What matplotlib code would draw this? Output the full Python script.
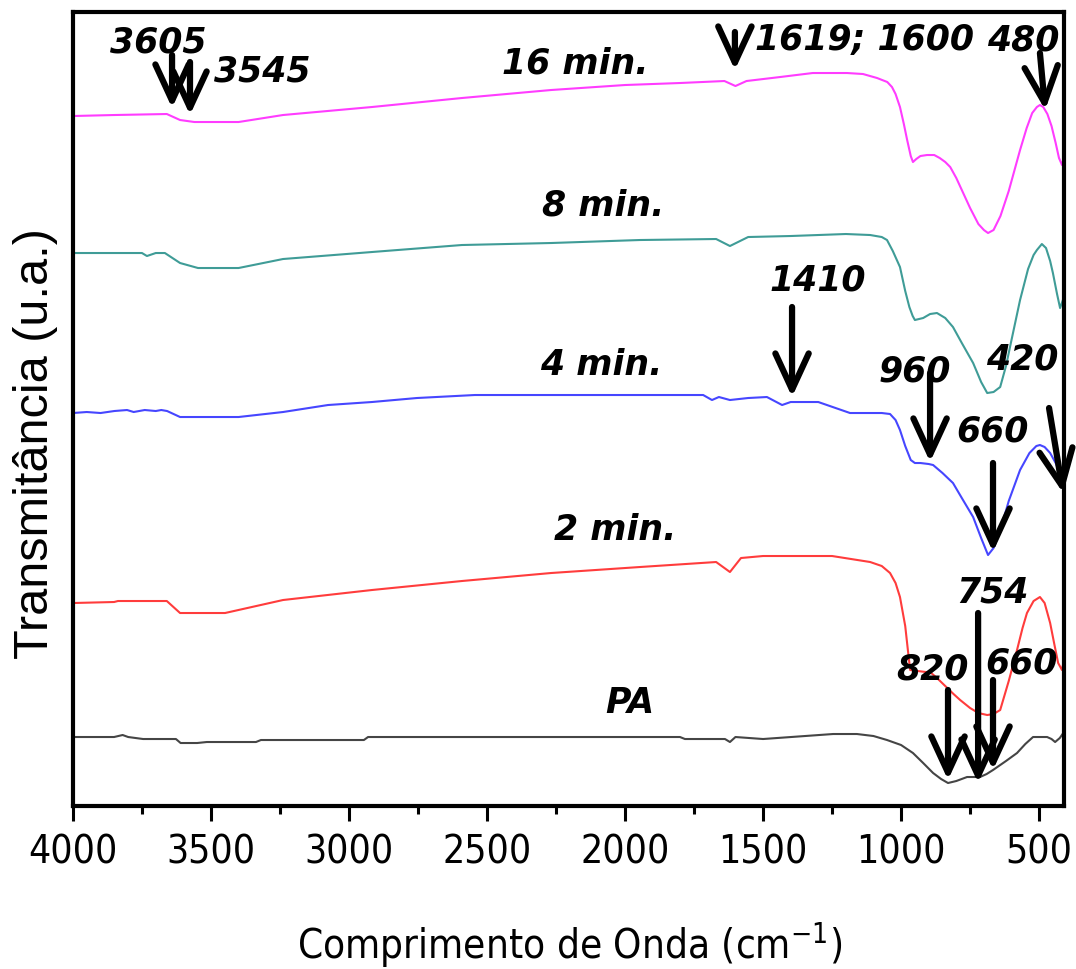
import matplotlib
matplotlib.use('Agg')
import matplotlib.pyplot as plt
from matplotlib import font_manager as fm
from matplotlib.ticker import MultipleLocator

# FTIR spectra, values (arbitrary transmittance units, offset per curve)
wn_16 = [4000, 3850, 3660, 3612, 3560, 3400, 3239, 2917, 2591, 2268, 2000, 1801, 1640, 1600,
         1560, 1438, 1320, 1196, 1138, 1087, 1050, 1033, 1020, 1004, 990, 978, 965, 957, 945,
         930, 906, 880, 860, 840, 822, 800, 775, 750, 720, 700, 685, 665, 640, 610, 585, 569,
         545, 525, 508, 497, 485, 470, 455, 440, 428, 417, 410]
t_16 = [690, 691, 692, 686, 684, 684, 691, 699, 708, 716, 721, 723, 725, 720,
        725, 729, 733, 733, 732, 728, 724, 719, 712, 699, 682, 666, 650, 644, 647,
        650, 651, 651, 648, 644, 639, 628, 613, 598, 582, 576, 573, 576, 590, 615, 640, 656,
        678, 693, 699, 701, 699, 692, 680, 663, 648, 641, 649]

wn_8 = [4000, 3750, 3732, 3700, 3667, 3612, 3547, 3400, 3239, 2917, 2591, 2268, 1946, 1670,
        1620, 1554, 1400, 1200, 1112, 1070, 1051, 1030, 1004, 985, 970, 958, 950, 935, 920,
        895, 870, 840, 812, 780, 739, 710, 688, 665, 641, 620, 600, 569, 540, 520, 508, 490,
        475, 460, 450, 435, 424, 410]
t_8 = [553, 553, 550, 553, 553, 543, 538, 538, 547, 554, 561, 563, 566, 567,
       560, 569, 570, 572, 571, 569, 566, 555, 539, 515, 499, 490, 486, 487, 488,
       492, 493, 488, 479, 463, 443, 424, 413, 414, 419, 440, 466, 506, 537, 551, 556, 562,
       558, 545, 533, 512, 498, 509]

wn_4 = [4000, 3950, 3900, 3850, 3804, 3780, 3740, 3700, 3680, 3659, 3612, 3562, 3400, 3239,
        3076, 2917, 2754, 2544, 2000, 1717, 1685, 1660, 1620, 1554, 1486, 1431, 1400, 1300,
        1185, 1070, 1040, 1020, 1004, 985, 965, 950, 930, 900, 884, 850, 812, 780, 739, 710,
        685, 665, 640, 610, 569, 535, 510, 497, 480, 460, 440, 425, 410]
t_4 = [393, 394, 393, 395, 396, 394, 396, 395, 396, 395, 389, 389, 389, 394,
       401, 404, 408, 411, 411, 411, 406, 409, 406, 408, 409, 401, 404, 404,
       393, 393, 392, 386, 376, 360, 346, 343, 343, 342, 341, 333, 323, 308, 289, 268,
       251, 258, 276, 305, 336, 353, 360, 361, 359, 353, 343, 333, 326]

wn_2 = [4000, 3851, 3837, 3660, 3612, 3562, 3449, 3239, 2917, 2591, 2268, 1946, 1670, 1620,
        1580, 1500, 1250, 1112, 1070, 1040, 1020, 1004, 985, 975, 967, 940, 910, 895, 870,
        840, 810, 786, 750, 720, 688, 665, 641, 610, 580, 560, 544, 520, 497, 480, 460, 445,
        431, 417, 410]
t_2 = [203, 204, 205, 205, 193, 193, 193, 206, 216, 225, 233, 239, 244, 234,
       248, 250, 250, 244, 240, 233, 223, 209, 180, 155, 136, 135, 134, 134, 128,
       120, 112, 106, 98, 93, 91, 92, 96, 125, 156, 178, 193, 205, 209, 203, 183, 162,
       143, 136, 146]

wn_pa = [4000, 3851, 3820, 3800, 3746, 3627, 3610, 3550, 3515, 3337, 3319, 2946, 2931, 1801,
         1783, 1638, 1620, 1600, 1500, 1246, 1160, 1100, 1051, 1000, 957, 920, 884, 855, 830,
         800, 761, 714, 690, 667, 620, 580, 550, 522, 471, 455, 442, 425, 410]
t_pa = [69, 69, 71, 69, 67, 67, 63, 63, 64, 64, 66, 66, 69, 69,
        67, 67, 64, 69, 67, 72, 72, 70, 66, 61, 53, 43, 33, 27, 23, 25, 29, 29, 32, 36,
        45, 53, 62, 69, 69, 67, 64, 68, 74]

curve_names = ['16 min.', '8 min.', '4 min.', '2 min.', 'PA']
curve_colors = ['#ff3cff', '#3f9c97', '#4646ff', '#ff3c3c', '#454545']
curves = [(wn_16, t_16), (wn_8, t_8), (wn_4, t_4), (wn_2, t_2), (wn_pa, t_pa)]
name_pos = [(2181, 743), (2080, 601), (2087, 441), (2034, 276), (1982, 103)]

# band labels: text, text position, arrow tail, arrow tip
bands = [
    ('3605', (3692, 764), (3641, 751), (3641, 698)),
    ('3545', (3315, 735), (3576, 744), (3576, 691)),
    ('1619; 1600', (1131, 766), (1602, 774), (1602, 736)),
    ('480', (558, 766), (497, 753), (478, 696)),
    ('1410', (1301, 526), (1395, 499), (1395, 409)),
    ('960', (949, 435), (895, 433), (895, 344)),
    ('420', (562, 447), (464, 398), (413, 313)),
    ('660', (670, 375), (667, 343), (667, 254)),
    ('754', (670, 214), (721, 193), (721, 23)),
    ('820', (888, 137), (830, 116), (830, 26)),
    ('660', (565, 143), (667, 126), (667, 36)),
]

# condensed face for axis text if available
cond = fm.findfont(fm.FontProperties(family='DejaVu Sans', stretch='condensed'))
if 'Condensed' in cond:
    axis_font = dict(family='DejaVu Sans', stretch='condensed')
else:
    axis_font = dict(family='Liberation Sans Narrow')

fig = plt.figure(figsize=(10.76, 9.69), dpi=100)
ax = fig.add_axes([0.0678, 0.1682, 0.9210, 0.8194])

for (wn, t), c in zip(curves, curve_colors):
    ax.plot(wn, t, color=c, lw=1.5)

for name, (x, y) in zip(curve_names, name_pos):
    ax.text(x, y, name, fontsize=25, fontweight='bold', style='italic',
            ha='center', va='center', color='black')

for txt, (tx, ty), (x0, y0), (x1, y1) in bands:
    ax.text(tx, ty, txt, fontsize=25, fontweight='bold', style='italic',
            ha='center', va='center', color='black')
    ax.annotate('', xy=(x1, y1), xytext=(x0, y0),
                arrowprops=dict(arrowstyle='->, head_length=1.3, head_width=0.6',
                                mutation_scale=20, lw=4.5, color='black',
                                shrinkA=0, shrinkB=0))

ax.set_xlim(4000, 410)
ax.set_ylim(0, 794)
ax.xaxis.set_major_locator(MultipleLocator(500))
ax.xaxis.set_minor_locator(MultipleLocator(250))
ax.set_yticks([])
ax.tick_params(axis='x', which='major', direction='out', length=11, width=2.2, pad=9)
ax.tick_params(axis='x', which='minor', direction='out', length=6, width=2.2)
for lbl in ax.get_xticklabels():
    lbl.set_fontsize(28)
    lbl.set_fontfamily(axis_font['family'])
    if 'stretch' in axis_font:
        lbl.set_fontstretch(axis_font['stretch'])
for s in ax.spines.values():
    s.set_linewidth(3)

ax.set_xlabel(r'Comprimento de Onda (cm$^{\mathregular{-1}}$)', fontsize=29, va='center', **axis_font)
ax.xaxis.set_label_coords(0.5015, -0.175)
ax.set_ylabel('Transmitância (u.a.)', fontsize=35, family='Liberation Sans', va='center')
ax.yaxis.set_label_coords(-0.038, 0.456)

fig.savefig('out.png', dpi=100)
